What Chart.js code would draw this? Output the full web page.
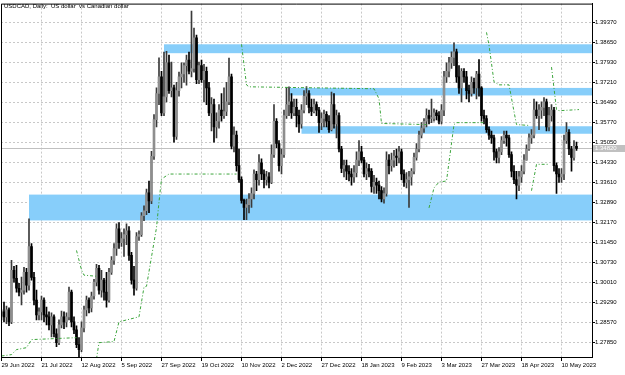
<!DOCTYPE html>
<html>
<head>
<meta charset="utf-8">
<script src="https://cdn.jsdelivr.net/npm/chart.js@4"></script>
<style>
  html, body { margin: 0; padding: 0; background: #fff; }
  canvas { display: block; }
</style>
</head>
<body>
<canvas id="chart" width="625" height="375"></canvas>
<script>
// daily bars, 29 Jun 2022 .. 18 May 2023
const firstOpen = 1.2880;
const closes = [
  1.2894,1.2876,1.2901,1.2858,1.3043,1.3015,1.2979,1.2965,1.2972,1.3036,
  1.2990,1.3129,1.3018,1.2936,1.2883,1.2894,1.2936,1.2883,1.2876,1.2847,
  1.2876,1.2815,1.2783,1.2847,1.2876,1.2858,1.2876,1.2965,1.2858,1.2829,
  1.2776,1.2758,1.2836,1.2901,1.2936,1.2908,1.2951,1.3001,1.3051,1.2972,
  1.3008,1.2965,1.2936,1.3036,1.3079,1.3122,1.3193,1.3143,1.3158,1.3172,
  1.3186,1.3097,1.3008,1.2979,1.3165,1.3172,1.3240,1.3258,1.3322,1.3293,
  1.3454,1.3586,1.3680,1.3740,1.3610,1.3668,1.3790,1.3690,1.3700,1.3525,
  1.3690,1.3740,1.3750,1.3780,1.3800,1.3760,1.3770,1.3880,1.3730,1.3780,
  1.3730,1.3760,1.3700,1.3610,1.3640,1.3560,1.3580,1.3620,1.3600,1.3615,
  1.3650,1.3740,1.3490,1.3530,1.3420,1.3370,1.3295,1.3270,1.3280,1.3300,
  1.3320,1.3390,1.3370,1.3430,1.3390,1.3370,1.3380,1.3360,1.3460,1.3580,
  1.3500,1.3420,1.3460,1.3600,1.3640,1.3650,1.3610,1.3630,1.3600,1.3570,
  1.3620,1.3670,1.3680,1.3630,1.3615,1.3640,1.3620,1.3575,1.3590,1.3605,
  1.3580,1.3550,1.3640,1.3570,1.3600,1.3480,1.3410,1.3420,1.3400,1.3390,
  1.3380,1.3395,1.3440,1.3470,1.3440,1.3390,1.3410,1.3400,1.3345,1.3360,
  1.3350,1.3330,1.3300,1.3320,1.3440,1.3420,1.3440,1.3455,1.3450,1.3470,
  1.3390,1.3360,1.3370,1.3380,1.3400,1.3450,1.3480,1.3530,1.3555,1.3580,
  1.3600,1.3590,1.3590,1.3610,1.3600,1.3580,1.3620,1.3740,1.3760,1.3790,
  1.3810,1.3830,1.3740,1.3700,1.3760,1.3740,1.3690,1.3680,1.3720,1.3700,
  1.3750,1.3700,1.3600,1.3590,1.3550,1.3530,1.3520,1.3470,1.3450,1.3470,
  1.3510,1.3530,1.3520,1.3460,1.3400,1.3370,1.3350,1.3380,1.3400,1.3440,
  1.3480,1.3520,1.3530,1.3620,1.3600,1.3620,1.3630,1.3650,1.3560,1.3600,
  1.3620,1.3420,1.3390,1.3380,1.3390,1.3510,1.3540,1.3480,1.3450,1.3490,
  1.3482
];
const highs = [
  1.2901,1.2929,1.2915,1.2908,1.3079,1.3058,1.3061,1.2997,1.3019,1.3054,
  1.3051,1.3229,1.3140,1.3036,1.2972,1.2908,1.2951,1.2944,1.2911,1.2894,
  1.2890,1.2883,1.2833,1.2865,1.2897,1.2894,1.2890,1.2983,1.2972,1.2876,
  1.2844,1.2801,1.2858,1.2915,1.2951,1.2944,1.2965,1.3011,1.3065,1.3061,
  1.3043,1.3015,1.3036,1.3051,1.3093,1.3140,1.3211,1.3215,1.3179,1.3193,
  1.3211,1.3201,1.3108,1.3058,1.3179,1.3186,1.3251,1.3276,1.3336,1.3365,
  1.3472,1.3604,1.3700,1.3808,1.3760,1.3829,1.3832,1.3818,1.3793,1.3710,
  1.3720,1.3757,1.3790,1.3790,1.3818,1.3829,1.3977,1.3915,1.3890,1.3793,
  1.3800,1.3785,1.3775,1.3720,1.3665,1.3660,1.3610,1.3640,1.3680,1.3700,
  1.3720,1.3807,1.3750,1.3560,1.3545,1.3480,1.3380,1.3300,1.3300,1.3320,
  1.3340,1.3405,1.3400,1.3460,1.3445,1.3405,1.3400,1.3395,1.3495,1.3640,
  1.3590,1.3510,1.3480,1.3620,1.3700,1.3704,1.3680,1.3660,1.3660,1.3620,
  1.3640,1.3690,1.3705,1.3690,1.3660,1.3660,1.3650,1.3630,1.3610,1.3620,
  1.3615,1.3600,1.3685,1.3680,1.3620,1.3610,1.3490,1.3440,1.3440,1.3420,
  1.3410,1.3420,1.3470,1.3510,1.3490,1.3450,1.3430,1.3425,1.3410,1.3385,
  1.3375,1.3365,1.3345,1.3340,1.3470,1.3460,1.3465,1.3475,1.3480,1.3490,
  1.3480,1.3405,1.3395,1.3400,1.3410,1.3465,1.3500,1.3545,1.3575,1.3590,
  1.3625,1.3620,1.3660,1.3625,1.3620,1.3615,1.3640,1.3760,1.3790,1.3810,
  1.3830,1.3862,1.3840,1.3780,1.3770,1.3770,1.3760,1.3710,1.3740,1.3735,
  1.3760,1.3802,1.3705,1.3620,1.3600,1.3560,1.3545,1.3530,1.3480,1.3485,
  1.3525,1.3545,1.3545,1.3530,1.3470,1.3420,1.3400,1.3400,1.3420,1.3460,
  1.3495,1.3535,1.3550,1.3660,1.3650,1.3640,1.3650,1.3665,1.3660,1.3630,
  1.3640,1.3630,1.3430,1.3410,1.3410,1.3530,1.3575,1.3550,1.3490,1.3510,
  1.3505
];
const lows = [
  1.2865,1.2858,1.2851,1.2844,1.2851,1.3001,1.2965,1.2951,1.2919,1.2958,
  1.2965,1.2972,1.3008,1.2919,1.2865,1.2865,1.2865,1.2858,1.2847,1.2829,
  1.2804,1.2804,1.2769,1.2776,1.2836,1.2833,1.2840,1.2865,1.2840,1.2815,
  1.2765,1.2729,1.2751,1.2822,1.2879,1.2890,1.2894,1.2940,1.2987,1.2958,
  1.2947,1.2936,1.2911,1.2929,1.3029,1.3065,1.3097,1.3122,1.3129,1.3093,
  1.3136,1.3079,1.2994,1.2954,1.2972,1.3151,1.3165,1.3222,1.3244,1.3251,
  1.3283,1.3443,1.3560,1.3640,1.3600,1.3600,1.3650,1.3680,1.3668,1.3505,
  1.3515,1.3670,1.3700,1.3720,1.3710,1.3750,1.3740,1.3757,1.3715,1.3715,
  1.3720,1.3650,1.3640,1.3600,1.3545,1.3505,1.3520,1.3555,1.3580,1.3590,
  1.3600,1.3640,1.3480,1.3470,1.3400,1.3360,1.3285,1.3226,1.3226,1.3250,
  1.3270,1.3300,1.3330,1.3350,1.3370,1.3340,1.3350,1.3340,1.3355,1.3450,
  1.3485,1.3400,1.3390,1.3450,1.3590,1.3600,1.3590,1.3600,1.3560,1.3540,
  1.3555,1.3610,1.3640,1.3610,1.3600,1.3610,1.3600,1.3540,1.3550,1.3560,
  1.3560,1.3540,1.3545,1.3555,1.3520,1.3470,1.3395,1.3380,1.3370,1.3365,
  1.3350,1.3360,1.3380,1.3420,1.3430,1.3380,1.3370,1.3380,1.3325,1.3320,
  1.3320,1.3300,1.3290,1.3285,1.3310,1.3390,1.3400,1.3415,1.3420,1.3430,
  1.3370,1.3345,1.3340,1.3270,1.3350,1.3390,1.3440,1.3470,1.3520,1.3540,
  1.3560,1.3570,1.3575,1.3580,1.3585,1.3570,1.3570,1.3600,1.3720,1.3740,
  1.3770,1.3780,1.3720,1.3680,1.3650,1.3720,1.3660,1.3650,1.3670,1.3680,
  1.3660,1.3670,1.3580,1.3570,1.3540,1.3515,1.3500,1.3440,1.3430,1.3430,
  1.3460,1.3500,1.3490,1.3450,1.3380,1.3355,1.3300,1.3330,1.3360,1.3390,
  1.3440,1.3475,1.3500,1.3520,1.3590,1.3550,1.3590,1.3600,1.3545,1.3545,
  1.3580,1.3400,1.3320,1.3360,1.3360,1.3370,1.3500,1.3460,1.3400,1.3440,
  1.3475
];

// trailing stop line, [bar, price] pairs, one list per unbroken piece
const trailSegments = [
  [[0,1.2735],[4,1.2740],[6,1.2758],[10,1.2765],[12,1.2794],[30,1.2801]],
  [[30,1.3115],[32,1.3045],[33,1.3026],[38,1.3022]],
  [[38,1.2725],[39,1.2783],[45,1.2787],[47,1.2858],[55,1.2876],[57,1.2983],[58,1.2986],
   [62,1.3197],[63,1.3290],[64,1.3372],[67,1.3390],[94,1.3390]],
  [[96,1.3857],[98,1.3711],[99,1.3704],[149,1.3697],[151,1.3661],[152,1.3572],[170,1.3568]],
  [[171,1.3268],[173,1.3340],[175,1.3361],[178,1.3365],[181,1.3568],[182,1.3575],[193,1.3575]],
  [[194,1.3900],[195,1.3854],[197,1.3722],[199,1.3711],[203,1.3711],[205,1.3615],[206,1.3568],[211,1.3565]],
  [[212,1.3330],[214,1.3425],[219,1.3425]],
  [[220,1.3775],[222,1.3622],[223,1.3618],[231,1.3622]]
];

// zones drawn as rectangles
const bandStart = [11, 65, 115, 120];
const bandLow = [1.3223, 1.3825, 1.3673, 1.3535];
const bandHigh = [1.3316, 1.3857, 1.3700, 1.3562];

const dateTickIdx = [0,16,32,48,64,80,96,112,128,144,160,176,192,208,224];
const dateLabels = ['29 Jun 2022','21 Jul 2022','12 Aug 2022','5 Sep 2022','27 Sep 2022',
  '19 Oct 2022','10 Nov 2022','2 Dec 2022','27 Dec 2022','18 Jan 2023','9 Feb 2023',
  '3 Mar 2023','27 Mar 2023','18 Apr 2023','10 May 2023'];
const priceTicks = [1.27850,1.28570,1.29290,1.30010,1.30730,1.31450,1.32170,1.32890,
  1.33610,1.34330,1.35050,1.35770,1.36490,1.37210,1.37930,1.38650,1.39370];

const title = 'USDCAD, Daily:  US dollar  vs Canadian dollar';
const axisFont = { family: 'Liberation Sans', size: 6 };

//build candles
const opens = closes.map((c, i) => (i === 0 ? firstOpen : closes[i - 1]));
const bodyColors = closes.map((c, i) => (c >= opens[i] ? '#8e8e8e' : '#000000'));
const wickColors = closes.map((c, i) => (c >= opens[i] ? '#3a3a3a' : '#000000'));
const wickData = closes.map((c, i) => ({ x: i, y: [lows[i], highs[i]] }));
const bodyData = closes.map((c, i) => ({ x: i, y: [opens[i], c] }));
const lastClose = closes[closes.length - 1];

const trailSets = trailSegments.map((seg) => ({
  type: 'line',
  data: seg.map((p) => ({ x: p[0], y: p[1] })),
  borderColor: 'rgb(60,165,60)',
  borderWidth: 1,
  borderDash: [3, 2, 1, 2],
  pointRadius: 0,
  tension: 0,
  order: 0
}));

//bands + bid line under the candles
const backgroundPlugin = {
  id: 'background',
  beforeDatasetsDraw(chart) {
    const { ctx, chartArea, scales } = chart;
    ctx.save();
    ctx.fillStyle = '#87cefa';
    for (let i = 0; i < bandStart.length; i++) {
      const x0 = scales.x.getPixelForValue(bandStart[i]);
      const y0 = scales.y.getPixelForValue(bandHigh[i]);
      const y1 = scales.y.getPixelForValue(bandLow[i]);
      ctx.fillRect(x0, y0, chartArea.right - x0, y1 - y0);
    }
    const yb = Math.round(scales.y.getPixelForValue(lastClose)) + 0.5;
    ctx.strokeStyle = '#c0c0c0';
    ctx.lineWidth = 1;
    ctx.beginPath();
    ctx.moveTo(chartArea.left, yb);
    ctx.lineTo(chartArea.right, yb);
    ctx.stroke();
    ctx.restore();
  }
};

//frame, title and price tag
const overlayPlugin = {
  id: 'overlay',
  afterDraw(chart) {
    const { ctx, chartArea, scales } = chart;
    ctx.save();
    ctx.strokeStyle = '#000';
    ctx.lineWidth = 1;
    ctx.beginPath();
    ctx.moveTo(chartArea.left + 0.5, chartArea.bottom);
    ctx.lineTo(chartArea.left + 0.5, chartArea.top + 0.5);
    ctx.lineTo(chartArea.right, chartArea.top + 0.5);
    ctx.stroke();

    ctx.fillStyle = '#000';
    ctx.font = '6px "Liberation Sans"';
    ctx.textBaseline = 'middle';
    ctx.textAlign = 'left';
    ctx.fillText(title, 4, 6);

    const yb = Math.round(scales.y.getPixelForValue(lastClose));
    ctx.fillStyle = '#c0c0c0';
    ctx.fillRect(chartArea.right + 1, yb - 3, 32, 7);
    ctx.fillStyle = '#fff';
    ctx.fillText(lastClose.toFixed(5), chartArea.right + 3, yb + 0.5);
    ctx.restore();
  }
};

const ctx = document.querySelector('#chart').getContext('2d');
const chart = new Chart(ctx, {
  type: 'bar',
  data: {
    datasets: [
      { data: wickData, backgroundColor: wickColors, barThickness: 1, grouped: false, order: 2 },
      { data: bodyData, backgroundColor: bodyColors, barThickness: 2, grouped: false, minBarLength: 1, order: 1 },
      ...trailSets
    ]
  },
  options: {
    responsive: false,
    animation: false,
    devicePixelRatio: 1,
    layout: { padding: { top: 1, left: 1, right: 0, bottom: 0 } },
    plugins: { legend: { display: false }, tooltip: { enabled: false } },
    scales: {
      x: {
        type: 'linear',
        min: -0.2,
        max: 236.2,
        offset: false,
        afterBuildTicks: (s) => { s.ticks = dateTickIdx.map((v) => ({ value: v })); },
        afterFit: (s) => { s.height = 18; },
        ticks: {
          callback: (v, i) => dateLabels[i],
          align: 'start',
          maxRotation: 0,
          autoSkip: false,
          padding: 1,
          color: '#000',
          font: axisFont
        },
        grid: { offset: false, color: '#c8c8c8', tickColor: '#000', tickLength: 4 },
        border: { display: true, color: '#000', dash: [2, 2] }
      },
      y: {
        position: 'right',
        min: 1.27314,
        max: 1.40035,
        beginAtZero: false,
        afterBuildTicks: (s) => { s.ticks = priceTicks.map((v) => ({ value: v })); },
        afterFit: (s) => { s.width = 33; },
        ticks: {
          callback: (v) => v.toFixed(5),
          padding: 0,
          color: '#000',
          font: axisFont
        },
        grid: { color: '#c8c8c8', tickColor: '#000', tickLength: 3 },
        border: { display: true, color: '#000', dash: [2, 2] }
      }
    }
  },
  plugins: [backgroundPlugin, overlayPlugin]
});
</script>
</body>
</html>
